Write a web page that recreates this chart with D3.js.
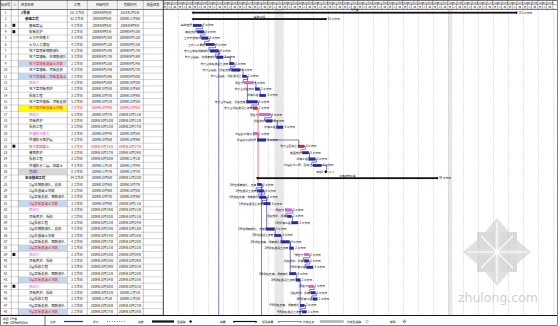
<!DOCTYPE html>
<html><head><meta charset="utf-8">
<script src="https://cdn.jsdelivr.net/npm/d3@7"></script>
<style>
html,body{margin:0;padding:0;background:#fff;}
svg{display:block;font-family:"Noto Sans CJK SC","Noto Sans",sans-serif;}
</style></head><body>
<svg id="c" width="560" height="326"></svg>
<script>
// ---------------- data ----------------
const taskNames = ["1号楼","基础工程","基础垫层","模板支护","土方开挖施工","土方人工清理","地下室底板钢筋绑扎","地下室墙板、柱钢筋绑扎","地下室底板混凝土浇筑","地下室墙板、顶板支模","地下室墙板、顶板混凝土","预应力","地下室顶板养护","拆模工程","地下室外墙板、顶板支模","地下室顶板混凝土浇筑","预应力","顶板养护","拆模工程","外墙防水施工","外墙防水保护层","地下室回填土","楼面养护","拆模工程","外墙防水二层、回填土","完成1","主体结构工程","1层柱钢筋绑扎、支模","1层柱混凝土浇筑","1层梁板支模、钢筋绑扎","1层梁板混凝土浇筑","预应力","顶板养护、拆模","1层拆模工程","2层柱钢筋绑扎、支模","2层柱混凝土浇筑","2层梁板支模、钢筋绑扎","2层梁板混凝土浇筑","预应力","顶板养护、拆模","2层拆模工程","3层梁板支模、钢筋绑扎","3层梁板混凝土浇筑","预应力","顶板养护、拆模","3层拆模工程","4层梁板支模、钢筋绑扎","4层梁板混凝土浇筑"];
const taskLevels = [0,1,2,2,2,2,2,2,2,2,2,2,2,2,2,2,2,2,2,2,2,2,2,2,2,2,1,2,2,2,2,2,2,2,2,2,2,2,2,2,2,2,2,2,2,2,2,2];
const taskStarts = [14,14,14,16,18,20,22,25,31,32,37,38,43,45,39,42,45,48,53,42,44,63,65,68,70,76,44,44,44,45,47,57,58,60,48,52,55,59,66,66,67,59,62,68,69,70,64,65];
const taskDurations = [151,62,4,3,3,4,4,3,2,4,2,4,2,3,5,2,5,3,3,2,4,3,3,3,4,0,84,2,3,3,3,3,2,3,4,3,4,2,2,2,3,3,2,2,2,2,2,2];
const taskTypes = ["summary","summary","task","task","task","task","task","task","pour","task","pour","pink","task","task","task","crit","pink","task","task","pink","task","crit","task","task","task","milestone","summary","task","task","task","pour","pink","task","task","task","task","task","pour","pink","task","task","task","pour","pink","task","task","task","pour"];
const nameHighlights = {9:"blue",11:"blue",16:"yellow",26:"gray",31:"blue",38:"blue",43:"blue",48:"blue"};
const iconRows = [3,4,22,39,44];
const links = [[3,4],[4,5],[5,6],[6,7],[7,8],[8,9],[9,10],[10,11],[11,12],[12,13],[13,14],[11,15],[15,16],[16,17],[17,18],[18,19],[20,21],[21,22],[22,23],[23,24],[24,25],[25,26],[7,null],[16,28],[28,null],[28,29],[29,30],[30,31],[31,32],[32,33],[33,34],[30,35],[35,36],[36,37],[37,38],[38,39],[39,40],[40,41],[37,42],[42,43],[43,44],[44,45],[45,46],[43,null],[47,48]];
const weekLabels = ["09年8月23日","09年8月30日","09年9月6日","09年9月13日","09年9月20日","09年9月27日","09年10月4日","09年10月11日","09年10月18日","09年10月25日","09年11月1日","09年11月8日","09年11月15日","09年11月22日","09年11月29日","09年12月6日","09年12月13日","09年12月20日","09年12月27日","10年1月3日","10年1月10日","10年1月17日","10年1月24日","10年1月31日","10年2月7日","10年2月14日"];
const timelineDays = 189;
const minorLabels = ["日","二","四"];
const minorOffsets = [0,2,4];
const shadedRanges = [[52,56],[133,135]];
const columnHeaders = ["标识号","ⓘ","任务名称","工期","开始时间","完成时间","前置任务"];
const legendItems = [["任务","task"],["拆分","split"],["进度","progress"],["里程碑","milestone"],["摘要","summary"],["项目摘要","projsum"],["外部任务","ext"],["外部里程碑","extms"],["期限","deadline"]];
const baseDate = new Date(2009,7,23);

// ---------------- layout ----------------
const svg = d3.select("#c");
const tableRight = 163, ganttRight = 557, headerH = 9.5, bodyBottom = 315;
const colX = [0,11,18,67,87,117,143,163];
const x = d3.scaleLinear().domain([0, timelineDays]).range([tableRight, tableRight + timelineDays/7*15]);
const y = d3.scaleBand().domain(d3.range(taskNames.length)).range([headerH, bodyBottom]);
const rh = y.bandwidth();
const yc = i => y(i) + rh/2;
const fmt = d3.timeFormat("%Y年%-m月%-d日");
const dateOf = d => d3.timeDay.offset(baseDate, d);
const C = {task:"#2a2aa6", pour:"#2a2aa6", pink:"#e066d8", crit:"#e02a2a", link:"#22229a"};

svg.append("rect").attr("width",560).attr("height",326).attr("fill","#fff");

svg.append("defs").append("clipPath").attr("id","gclip")
  .append("rect").attr("x",tableRight).attr("y",0).attr("width",ganttRight-tableRight).attr("height",bodyBottom);

// ---------------- gantt background ----------------
const g = svg.append("g").attr("clip-path","url(#gclip)");
g.selectAll(".shade").data(shadedRanges).join("rect")
  .attr("x",d=>x(d[0])).attr("width",d=>x(d[1])-x(d[0]))
  .attr("y",headerH).attr("height",bodyBottom-headerH).attr("fill","#e8e8e8");
g.selectAll(".grid").data(d3.range(Math.ceil(timelineDays/7)+1)).join("line")
  .attr("x1",d=>x(d*7)+0.5).attr("x2",d=>x(d*7)+0.5)
  .attr("y1",headerH).attr("y2",bodyBottom)
  .attr("stroke","#b8b8b8").attr("stroke-width",0.6).attr("stroke-dasharray","1,1.2");

// header tiers (cells across the whole timeline, labels for the full weeks)
const hg = g.append("g");
d3.range(Math.ceil(timelineDays/7)).forEach(i=>{
  hg.append("rect").attr("x",x(i*7)).attr("y",0).attr("width",x(7)-x(0)).attr("height",4.5)
    .attr("fill","#fff").attr("stroke","#555").attr("stroke-width",0.4);
  if (i < weekLabels.length)
    hg.append("text").attr("x",x(i*7)+0.8).attr("y",3.5).attr("font-size",2.6).attr("fill","#111").text(weekLabels[i]);
  minorOffsets.forEach((o,k)=>{
    const x0 = x(i*7+o), x1 = x(i*7+(k<minorOffsets.length-1?minorOffsets[k+1]:7));
    hg.append("rect").attr("x",x0).attr("y",4.5).attr("width",x1-x0).attr("height",4.5)
      .attr("fill","#fff").attr("stroke","#555").attr("stroke-width",0.3);
    if (x1 < ganttRight)
      hg.append("text").attr("x",(x0+x1)/2).attr("y",8.1).attr("text-anchor","middle").attr("font-size",2.6).attr("fill","#111").text(minorLabels[k]);
  });
});

// ---------------- links ----------------
const bh = 2.6;
links.forEach(([a,b])=>{
  const i = a-1, tA = taskTypes[i];
  const xe = x(taskStarts[i]+taskDurations[i]), yp = yc(i);
  let col = tA==="crit" ? C.crit : C.link, dash = null, path;
  if (b===null){
    path = `M${xe},${yp}V${bodyBottom}`;
  } else {
    const j = b-1, xs = x(taskStarts[j]), ys = yc(j);
    if (taskTypes[j]==="pink" && xs > xe+1){
      col = C.pink; dash = "0.8,0.8";
      path = `M${xe},${yp}V${ys}H${xs}`;
    } else if (xs >= xe){
      path = `M${xe},${yp}H${xs+0.8}V${ys-bh/2}`;
    } else {
      path = `M${xe},${yp}h1.2V${yp+rh/2}H${xs-1.2}V${ys}H${xs}`;
    }
  }
  g.append("path").attr("d",path).attr("fill","none").attr("stroke",col)
    .attr("stroke-width",0.6).attr("stroke-dasharray",dash);
});

// ---------------- bars ----------------
taskNames.forEach((name,i)=>{
  const t = taskTypes[i], s = taskStarts[i], d = taskDurations[i];
  const x0 = x(s), x1 = x(s+d), cy = yc(i);
  if (t==="summary"){
    g.append("rect").attr("x",x0).attr("y",cy-0.9).attr("width",x1-x0).attr("height",1.8).attr("fill","#111");
    [x0,x1].forEach(xx=>g.append("path").attr("d",`M${xx-1.3},${cy-0.9}h2.6l-1.3,2.6z`).attr("fill","#111"));
    g.append("text").attr("x",(x0+x1)/2).attr("y",cy-1.4).attr("text-anchor","middle").attr("font-size",2.8).attr("fill","#111").text(name);
    g.append("text").attr("x",x1+2).attr("y",cy+1).attr("font-size",2.8).attr("fill","#111").text(d+" 工作日");
  } else if (t==="milestone"){
    g.append("path").attr("d",`M${x0},${cy-1.7}l1.7,1.7l-1.7,1.7l-1.7,-1.7z`).attr("fill","#111");
    g.append("text").attr("x",x0+2.5).attr("y",cy+1).attr("font-size",2.8).attr("fill","#111").text(d3.timeFormat("%-m-%-d")(dateOf(s)));
    g.append("text").attr("x",x0-2.5).attr("y",cy+1).attr("text-anchor","end").attr("font-size",2.8).attr("fill","#111").text(name);
  } else {
    g.append("rect").attr("x",x0).attr("y",cy-bh/2).attr("width",Math.max(x1-x0,1)).attr("height",bh)
      .attr("fill",C[t]).attr("stroke",t==="pink"?"#b030a8":"#10106a").attr("stroke-width",0.3);
    g.append("text").attr("x",x0-1).attr("y",cy+1).attr("text-anchor","end").attr("font-size",2.8).attr("fill","#111").text(name);
    g.append("text").attr("x",x1+1.5).attr("y",cy+1).attr("font-size",2.8).attr("fill","#111").text(d+" 工作日");
  }
});

// ---------------- table ----------------
const tg = svg.append("g");
tg.append("rect").attr("x",0).attr("y",0).attr("width",tableRight).attr("height",headerH).attr("fill","#f2f2f2");
columnHeaders.forEach((h,k)=>{
  tg.append("text").attr("x",k===2?colX[k]+3:(colX[k]+colX[k+1])/2).attr("y",6)
    .attr("text-anchor",k===2?"start":"middle").attr("font-size",3.2).attr("fill","#111").text(h);
});
const hlColor = {blue:"#c4d8f2",yellow:"#ffff00",gray:"#d8d8d8"};
taskNames.forEach((name,i)=>{
  const r = i+1, t = taskTypes[i], yy = y(i), cy = yc(i);
  const hl = nameHighlights[r];
  if (hl) tg.append("rect").attr("x",colX[2]+0.3).attr("y",yy+0.3).attr("width",colX[3]-colX[2]-0.6).attr("height",rh-0.6).attr("fill",hlColor[hl]);
  let col = "#111";
  if (t==="pink") col = "#e23ee0";
  if (t==="crit" || t==="pour") col = "#ee1111";
  if (hl==="gray") col = "#1b1bb0";
  const fw = t==="summary" ? "bold" : "normal";
  tg.append("text").attr("x",(colX[0]+colX[1])/2).attr("y",cy+1.2).attr("text-anchor","middle").attr("font-size",3).attr("fill","#111").text(r);
  if (iconRows.includes(r)) tg.append("rect").attr("x",12.5).attr("y",cy-1.6).attr("width",2.8).attr("height",3).attr("fill","#111");
  tg.append("text").attr("x",colX[2]+3+taskLevels[i]*4).attr("y",cy+1.2).attr("font-size",3.4).attr("font-weight",fw).attr("fill",col).text(name);
  const dcol = t==="crit" ? "#ee1111" : "#111";
  tg.append("text").attr("x",(colX[3]+colX[4])/2).attr("y",cy+1.2).attr("text-anchor","middle").attr("font-size",3).attr("fill",dcol).text(taskDurations[i]+" 工作日");
  tg.append("text").attr("x",(colX[4]+colX[5])/2).attr("y",cy+1.2).attr("text-anchor","middle").attr("font-size",3).attr("fill",dcol).text(fmt(dateOf(taskStarts[i])));
  tg.append("text").attr("x",(colX[5]+colX[6])/2).attr("y",cy+1.2).attr("text-anchor","middle").attr("font-size",3).attr("fill",dcol).text(fmt(dateOf(taskStarts[i]+Math.max(taskDurations[i]-1,0))));
});
tg.selectAll(".hl").data(d3.range(taskNames.length+1)).join("line")
  .attr("x1",0).attr("x2",tableRight).attr("y1",d=>d===0?headerH:y(d-1)+rh).attr("y2",d=>d===0?headerH:y(d-1)+rh)
  .attr("stroke","#9a9a9a").attr("stroke-width",0.4);
tg.selectAll(".vl").data(colX).join("line")
  .attr("x1",d=>d+0.3).attr("x2",d=>d+0.3).attr("y1",0).attr("y2",bodyBottom)
  .attr("stroke",(d,k)=>k===colX.length-1?"#333":"#888").attr("stroke-width",(d,k)=>k===colX.length-1?0.9:0.5);
svg.append("line").attr("x1",0).attr("x2",ganttRight).attr("y1",headerH).attr("y2",headerH).attr("stroke","#333").attr("stroke-width",0.6);

// ---------------- watermark ----------------
const wm = svg.append("g").attr("transform","translate(497,252)").attr("opacity",0.55);
wm.append("path").attr("d","M0,-34L12,-20L20,-12L34,0L20,12L12,20L0,34L-12,20L-20,12L-34,0L-20,-12L-12,-20Z").attr("fill","#c8c8c8");
[[-1,-1],[1,-1],[-1,1],[1,1]].forEach(([a,b])=>wm.append("rect").attr("x",a<0?-20:3).attr("y",b<0?-20:3).attr("width",17).attr("height",17).attr("fill","#bdbdbd"));
wm.append("path").attr("d","M0,-30V30M-30,0H30M-16,-16L16,16M16,-16L-16,16").attr("stroke","#fff").attr("stroke-width",1.2);
svg.append("text").attr("x",498).attr("y",302).attr("text-anchor","middle").attr("font-family","DejaVu Sans, sans-serif").attr("font-size",12.5).attr("fill","#cfcfcf").text("zhulong.com");

// ---------------- legend ----------------
const lg = svg.append("g");
lg.append("rect").attr("x",0).attr("y",bodyBottom).attr("width",ganttRight).attr("height",326-bodyBottom).attr("fill","#fff");
lg.append("line").attr("x1",0).attr("x2",ganttRight).attr("y1",bodyBottom+0.5).attr("y2",bodyBottom+0.5).attr("stroke","#111").attr("stroke-width",1);
lg.append("line").attr("x1",45).attr("x2",45).attr("y1",bodyBottom).attr("y2",326).attr("stroke","#111").attr("stroke-width",0.6);
lg.append("text").attr("x",3).attr("y",320).attr("font-size",2.8).attr("fill","#111").text("项目: 1号楼");
lg.append("text").attr("x",3).attr("y",324).attr("font-size",2.8).attr("fill","#111").text("日期: 2009年9月6日");
const legX = [50,93,138,177,220,262,303,347,390];
legendItems.forEach(([lbl,kind],k)=>{
  const lx = legX[k], ly = 321.5, sx = lx + (lbl.length>2?lbl.length*3.2:10) + 4;
  lg.append("text").attr("x",lx).attr("y",ly+1).attr("font-size",2.8).attr("fill","#111").text(lbl);
  if (kind==="task") lg.append("rect").attr("x",sx).attr("y",ly-0.6).attr("width",19).attr("height",1.2).attr("fill",C.task);
  if (kind==="split") lg.append("line").attr("x1",sx).attr("x2",sx+19).attr("y1",ly).attr("y2",ly).attr("stroke","#22229a").attr("stroke-width",0.8).attr("stroke-dasharray","0.8,1.6");
  if (kind==="progress") lg.append("rect").attr("x",sx).attr("y",ly-1.1).attr("width",22).attr("height",2.2).attr("fill","#111");
  if (kind==="milestone") lg.append("path").attr("d",`M${sx},${ly-1.6}l1.6,1.6l-1.6,1.6l-1.6,-1.6z`).attr("fill","#111");
  if (kind==="summary"){ lg.append("rect").attr("x",sx).attr("y",ly-0.6).attr("width",22).attr("height",1.2).attr("fill","#111");
    [sx,sx+22].forEach(xx=>lg.append("path").attr("d",`M${xx-1.2},${ly-0.6}h2.4l-1.2,2.4z`).attr("fill","#111")); }
  if (kind==="projsum"){ lg.append("rect").attr("x",sx).attr("y",ly-0.5).attr("width",22).attr("height",1).attr("fill","#888");
    [sx,sx+22].forEach(xx=>lg.append("path").attr("d",`M${xx-1.2},${ly-0.5}h2.4l-1.2,2.4z`).attr("fill","#888")); }
  if (kind==="ext") lg.append("rect").attr("x",sx).attr("y",ly-1.2).attr("width",24).attr("height",2.4).attr("fill","#b0b0b0");
  if (kind==="extms") lg.append("path").attr("d",`M${sx},${ly-1.6}l1.6,1.6l-1.6,1.6l-1.6,-1.6z`).attr("fill","none").attr("stroke","#666").attr("stroke-width",0.5);
  if (kind==="deadline") lg.append("path").attr("d",`M${sx},${ly-1.6}v1.6h-1.2l1.6,1.8l1.6,-1.8h-1.2v-1.6z`).attr("fill","none").attr("stroke","#111").attr("stroke-width",0.4);
});
svg.append("rect").attr("x",0.3).attr("y",0.3).attr("width",ganttRight).attr("height",325.4).attr("fill","none").attr("stroke","#333").attr("stroke-width",0.6);
</script>
</body></html>
